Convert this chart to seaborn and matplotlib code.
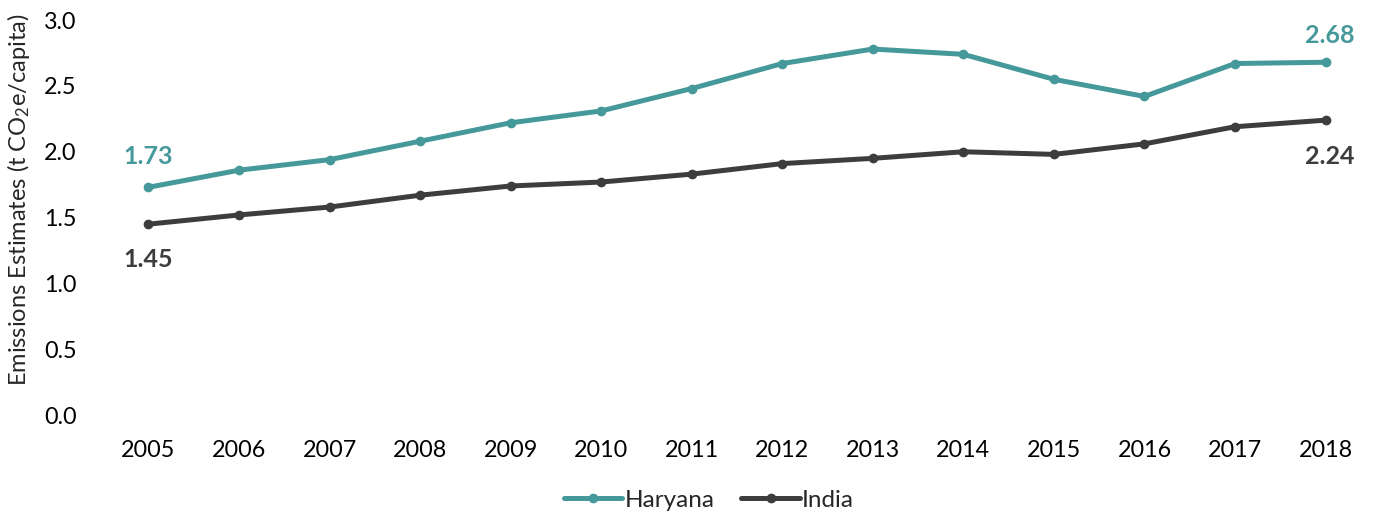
import matplotlib
matplotlib.use("Agg")
import matplotlib.pyplot as plt
import seaborn as sns
import pandas as pd

years = [2005, 2006, 2007, 2008, 2009, 2010, 2011, 2012, 2013, 2014, 2015, 2016, 2017, 2018]
haryana = [1.73, 1.86, 1.94, 2.08, 2.22, 2.31, 2.48, 2.67, 2.78, 2.74, 2.55, 2.42, 2.67, 2.68]
india = [1.45, 1.52, 1.58, 1.67, 1.74, 1.77, 1.83, 1.91, 1.95, 2.00, 1.98, 2.06, 2.19, 2.24]
series_names = ["Haryana", "India"]
y_ticks = [0.0, 0.5, 1.0, 1.5, 2.0, 2.5, 3.0]

TEAL = "#46999A"
DARK = "#3D3D3D"

sns.set_style("white")
plt.rcParams["font.family"] = ["Lato", "DejaVu Sans"]
plt.rcParams["mathtext.fontset"] = "custom"
plt.rcParams["mathtext.rm"] = "Lato"
plt.rcParams["mathtext.it"] = "Lato:italic"
plt.rcParams["mathtext.bf"] = "Lato:bold"

df = pd.DataFrame({
    "Year": years * 2,
    "Value": haryana + india,
    "Series": [series_names[0]] * len(years) + [series_names[1]] * len(years),
})

fig = plt.figure(figsize=(13.75, 5.15), dpi=100)
ax = fig.add_axes([0.075, 0.194, 0.922, 0.767])

sns.lineplot(data=df, x="Year", y="Value", hue="Series",
             palette={"Haryana": TEAL, "India": DARK},
             marker="o", markersize=7, markeredgewidth=0,
             linewidth=3.6, ax=ax)

ax.set_xlim(years[0] - 0.5, years[-1] + 0.5)
ax.set_ylim(0, 3.0)
ax.set_xticks(years)
ax.set_xticklabels([str(y) for y in years])
ax.set_yticks(y_ticks)
ax.set_yticklabels([f"{t:.1f}" for t in y_ticks])
ax.tick_params(axis="both", labelsize=16.8, colors="black", length=0)
ax.tick_params(axis="x", pad=18)
ax.tick_params(axis="y", pad=19)
ax.set_xlabel("")
ax.set_ylabel(r"Emissions Estimates (t CO$_2$e/capita)", fontsize=17, va="center")
ax.yaxis.set_label_coords(-0.067, 0.545)
sns.despine(ax=ax, left=True, bottom=True)

# end-point value labels
label_kw = dict(textcoords="offset points", ha="center", fontsize=18, fontweight="bold")
ax.annotate(f"{haryana[0]:.2f}", (years[0], haryana[0]), xytext=(0, 14), va="bottom", color=TEAL, **label_kw)
ax.annotate(f"{india[0]:.2f}", (years[0], india[0]), xytext=(0, -17), va="top", color=DARK, **label_kw)
ax.annotate(f"{haryana[-1]:.2f}", (years[-1], haryana[-1]), xytext=(3, 11), va="bottom", color=TEAL, **label_kw)
ax.annotate(f"{india[-1]:.2f}", (years[-1], india[-1]), xytext=(3, -18), va="top", color=DARK, **label_kw)

handles, labels = ax.get_legend_handles_labels()
ax.legend(handles, labels, loc="center", bbox_to_anchor=(0.478, -0.215),
          ncol=2, frameon=False, fontsize=17.5, handlelength=2.4,
          handletextpad=0.1, columnspacing=1.1)

fig.savefig("out.png", dpi=100)
